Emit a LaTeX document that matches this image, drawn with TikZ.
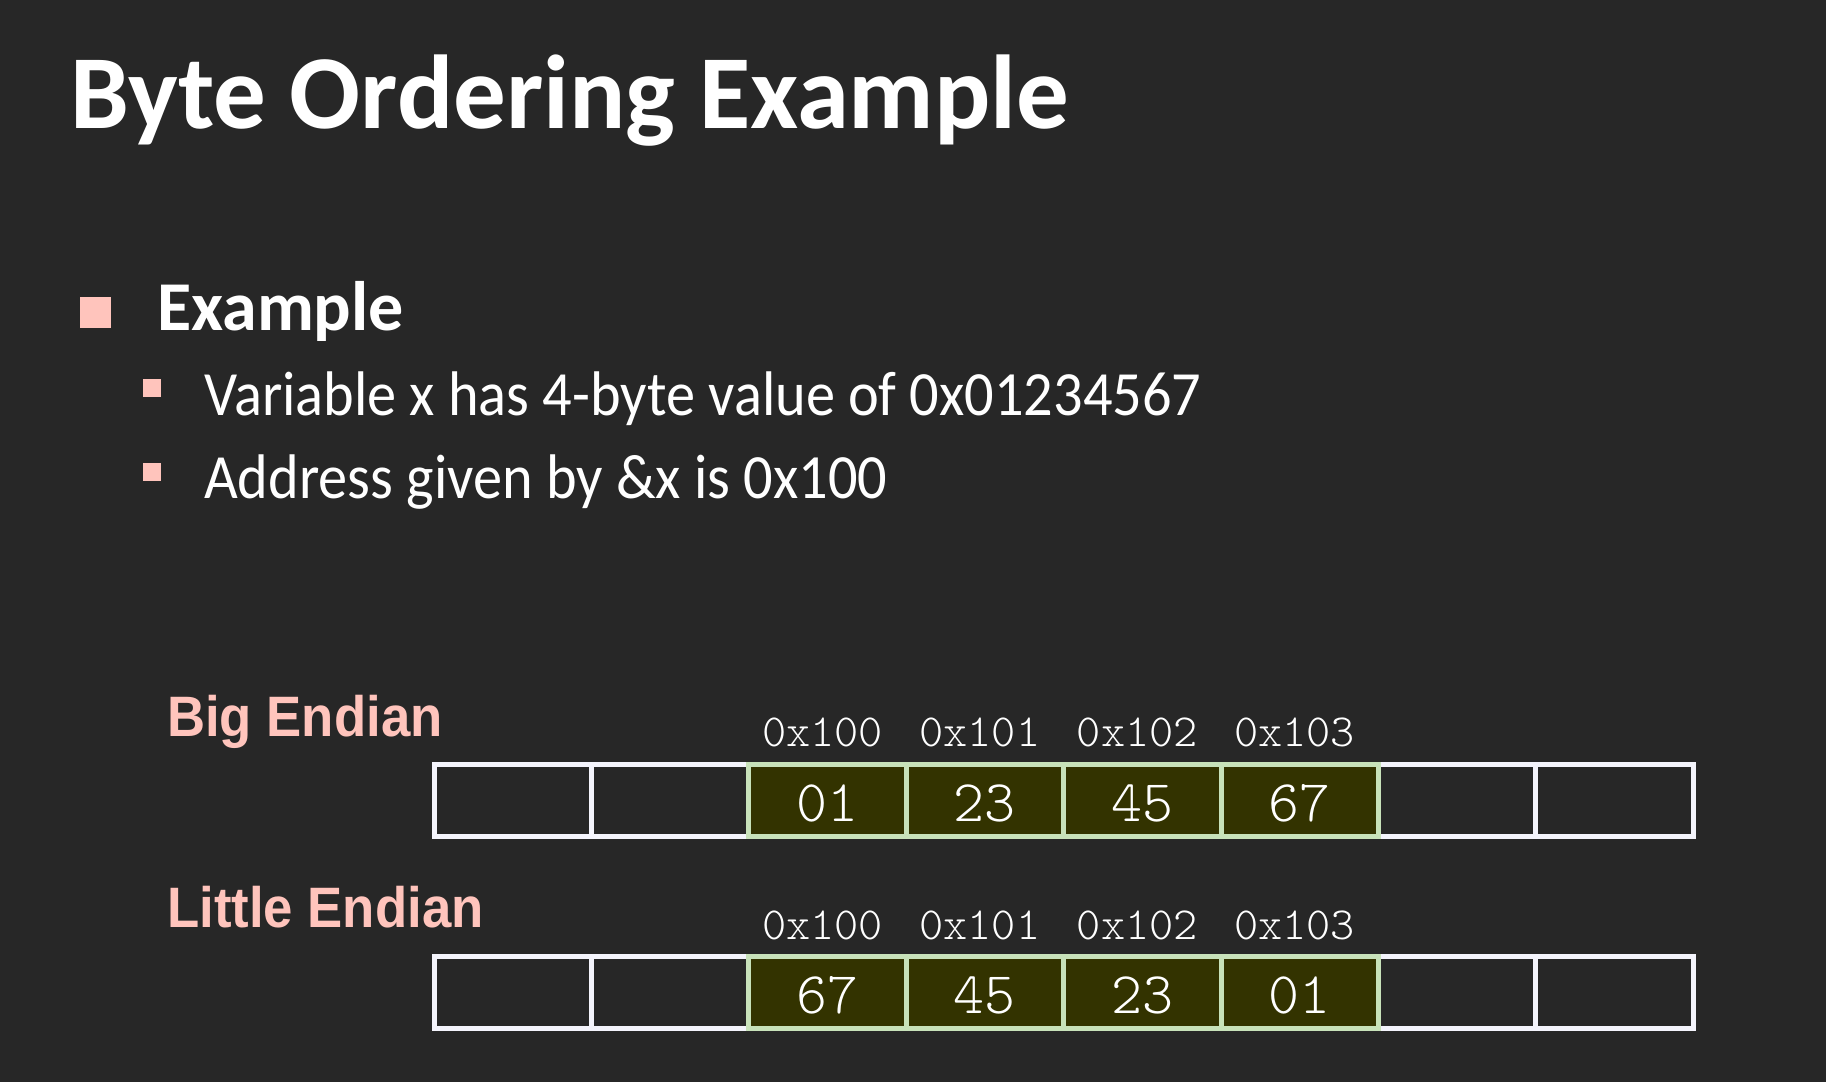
\documentclass[tikz,border=0pt]{standalone}
\usepackage{fontspec}
\setmainfont{Carlito}
\newfontfamily\narrowfont{Carlito}[FakeStretch=0.926]
\newfontfamily\labelfont{Liberation Sans}[FakeStretch=0.925]
\newfontfamily\monolight{Latin Modern Mono Light}
\definecolor{bg}{RGB}{39,39,39}
\definecolor{rosy}{RGB}{255,196,188}
\definecolor{olive}{RGB}{51,51,0}
\definecolor{leaf}{RGB}{200,226,186}
\definecolor{paper}{RGB}{244,244,252}
\tikzset{
  title/.style={anchor=base west, text=white, font=\bfseries\fontsize{105}{120}\selectfont, inner sep=0},
  lvlone/.style={anchor=base west, text=white, font=\bfseries\fontsize{70}{86}\selectfont, inner sep=0},
  lvltwo/.style={anchor=base west, text=white, font=\narrowfont\fontsize{63}{76}\selectfont, inner sep=0},
  bulletbig/.style={fill=rosy, minimum size=31pt, inner sep=0, anchor=center},
  bulletsmall/.style={fill=rosy, minimum size=18pt, inner sep=0, anchor=center},
  endian/.style={anchor=base west, text=rosy, font=\labelfont\bfseries\fontsize{57}{68}\selectfont, inner sep=0},
  addr/.style={anchor=base, text=white, font=\monolight\fontsize{46}{52}\selectfont, inner sep=0},
  emptycell/.style={draw=paper, line width=5pt, minimum width=157.4pt, minimum height=72pt, inner sep=0},
  bytecell/.style={draw=leaf, fill=olive, line width=5pt, minimum width=157.4pt, minimum height=72pt, inner sep=0},
  byteval/.style={anchor=base, text=white, font=\monolight\fontsize{59}{68}\selectfont, inner sep=0},
}
\begin{document}
\begin{tikzpicture}[x=1pt, y=-1pt]
  % slide background
  \fill[bg] (0,0) rectangle (1826,1082);
  \useasboundingbox (0,0) rectangle (1826,1082);

  \node[title] (head) at (70,128) {Byte Ordering Example};

  \node[bulletbig] (b0) at (95,312) {};
  \node[lvlone] (ex) at (157,330) {Example};
  \node[bulletsmall] (b1) at (152,388) {};
  \node[lvltwo] (l1) at (204,415) {Variable x has 4-byte value of 0x01234567};
  \node[bulletsmall] (b2) at (152,472) {};
  \node[lvltwo] (l2) at (204,498) {Address given by \&x is 0x100};

  \node[endian] (big) at (167,736) {Big Endian};
  \node[endian] (little) at (167,927) {Little Endian};

  % memory rows: empty cells first, byte cells drawn on top
  \foreach \row/\cy in {B/800, L/992} {
    \foreach \i in {0,1,6,7} {
      \node[emptycell] (\row\i) at ({434+157.4*(\i+0.5)},\cy) {};
    }
  }
  \foreach \row/\cy in {B/800, L/992} {
    \foreach \i in {2,3,4,5} {
      \node[bytecell] (\row\i) at ({434+157.4*(\i+0.5)},\cy) {};
    }
  }

  % addresses above the byte cells
  \foreach \i/\a in {2/0x100, 3/0x101, 4/0x102, 5/0x103} {
    \node[addr] (aB\i) at ({434+157.4*(\i+0.5)-5},746) {\a};
    \node[addr] (aL\i) at ({434+157.4*(\i+0.5)-5},939) {\a};
  }

  % byte values
  \foreach \i/\v in {2/01, 3/23, 4/45, 5/67} {
    \node[byteval] (vB\i) at ({434+157.4*(\i+0.5)},821) {\v};
  }
  \foreach \i/\v in {2/67, 3/45, 4/23, 5/01} {
    \node[byteval] (vL\i) at ({434+157.4*(\i+0.5)},1013) {\v};
  }
\end{tikzpicture}
\end{document}
